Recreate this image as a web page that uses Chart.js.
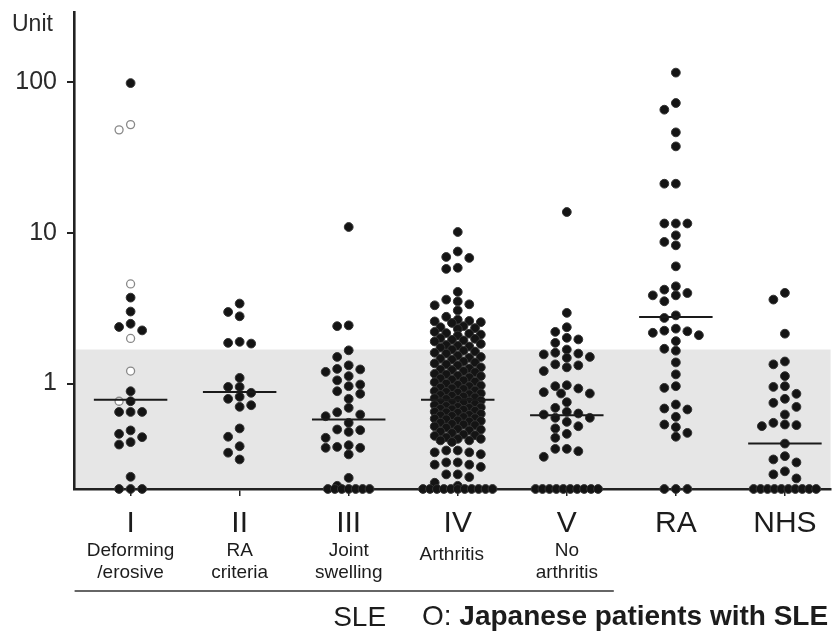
<!DOCTYPE html>
<html>
<head>
<meta charset="utf-8">
<script src="https://cdn.jsdelivr.net/npm/chart.js@4.4.1/dist/chart.umd.min.js"></script>
<style>
  html, body { margin: 0; padding: 0; background: #ffffff; }
  #wrap { width: 836px; height: 633px; position: relative; }
</style>
</head>
<body>
<div id="wrap"><canvas id="c" width="836" height="633"></canvas></div>
<script>
// ---------------- data ----------------
const categories = ['I', 'II', 'III', 'IV', 'V', 'RA', 'NHS'];
const subLabels = [['Deforming', '/erosive'], ['RA', 'criteria'], ['Joint', 'swelling'], ['Arthritis'], ['No', 'arthritis'], [], []];
const yTickValues = [1, 10, 100];
const yAxisTitle = 'Unit';
const groupTitle = 'SLE';
const legendSymbol = 'O: ';
const legendText = 'Japanese patients with SLE';
const normalUpperLimit = 1.68;   // shaded normal range top
const detectionLimit = 0.2;      // values plotted on the axis

const groupI = [98, 3.71, 3.0, 2.25, 2.37, 2.49, 0.889, 0.763, 0.648, 0.648, 0.648, 0.489, 0.441, 0.464, 0.394, 0.409, 0.241, 0.2, 0.2, 0.2];
const groupIJapanese = [52, 48, 4.57, 1.99, 1.21, 0.763];
const groupII = [3.39, 2.98, 2.79, 1.89, 1.84, 1.86, 1.09, 0.95, 0.95, 0.817, 0.868, 0.792, 0.718, 0.701, 0.504, 0.444, 0.384, 0.348, 0.314];
const groupIII = [10.9, 2.40, 2.43, 1.66, 1.50, 1.24, 1.32, 1.195, 1.25, 1.12, 1.05, 0.985, 0.96, 0.792, 0.855, 0.889, 0.69, 0.623, 0.607, 0.645, 0.549, 0.496, 0.478, 0.491, 0.437, 0.39, 0.375, 0.339, 0.375, 0.38, 0.237, 0.21, 0.2, 0.2, 0.2, 0.2, 0.2, 0.2, 0.2];
const groupIV = [
  10.1, 7.5, 6.8, 6.9, 5.75, 5.85, 4.05, 3.6, 3.5, 3.35, 3.3, 3.05, 2.77, 2.65,
  2.6, 2.58, 2.55, 2.52,
  2.4, 2.36, 2.33, 2.3,
  2.2, 2.16, 2.14, 2.11, 2.08,
  2.0, 1.98, 1.95, 1.93, 1.9,
  1.83, 1.8, 1.78, 1.76, 1.73,
  1.68, 1.65, 1.63, 1.6, 1.58,
  1.53, 1.5, 1.48, 1.46, 1.44,
  1.4, 1.38, 1.36, 1.34, 1.32,
  1.28, 1.26, 1.24, 1.23, 1.21, 1.19,
  1.16, 1.15, 1.13, 1.12, 1.1, 1.08,
  1.06, 1.05, 1.03, 1.02, 1.0, 0.98,
  0.97, 0.96, 0.94, 0.93, 0.92, 0.9,
  0.89, 0.88, 0.87, 0.86, 0.85, 0.84, 0.83,
  0.82, 0.81, 0.8, 0.79, 0.78, 0.77, 0.76, 0.75,
  0.745, 0.74, 0.73, 0.72, 0.71, 0.7, 0.695, 0.69,
  0.68, 0.675, 0.67, 0.66, 0.65, 0.645, 0.64, 0.63,
  0.62, 0.615, 0.61, 0.6, 0.59, 0.585, 0.58,
  0.57, 0.565, 0.56, 0.55, 0.54, 0.535, 0.53,
  0.52, 0.51, 0.5, 0.495, 0.49, 0.48,
  0.47, 0.46, 0.455, 0.45, 0.44,
  0.43, 0.43, 0.42, 0.42, 0.41,
  0.36, 0.36, 0.35, 0.35, 0.34,
  0.3, 0.3, 0.29, 0.29, 0.28,
  0.25, 0.25, 0.24, 0.22, 0.21,
  0.2, 0.2, 0.2, 0.2, 0.2, 0.2, 0.2, 0.2, 0.2, 0.2, 0.2
];
const groupV = [13.7, 2.94, 2.36, 2.20, 2.01, 1.86, 1.96, 1.68, 1.56, 1.60, 1.48, 1.50, 1.58, 1.32, 1.21, 1.28, 1.34, 0.927, 0.974, 0.859, 0.859, 0.876, 0.96, 0.69, 0.752, 0.623, 0.649, 0.593, 0.557, 0.593, 0.633, 0.521, 0.504, 0.437, 0.464, 0.369, 0.356, 0.327, 0.369, 0.2, 0.2, 0.2, 0.2, 0.2, 0.2, 0.2, 0.2, 0.2, 0.2];
const groupRA = [115, 72.3, 65.3, 46.2, 37.3, 21.1, 21.1, 11.5, 11.5, 11.5, 9.6, 8.68, 8.24, 5.98, 4.19, 4.41, 3.84, 3.51, 3.84, 3.98, 2.83, 2.72, 2.31, 2.22, 2.09, 2.17, 1.91, 2.24, 1.70, 1.65, 1.38, 1.15, 0.936, 0.96, 0.683, 0.726, 0.673, 0.602, 0.535, 0.471, 0.444, 0.514, 0.2, 0.2, 0.2];
const groupNHS = [3.99, 3.6, 2.14, 1.34, 1.40, 1.12, 0.96, 0.95, 0.855, 0.792, 0.745, 0.70, 0.623, 0.535, 0.522, 0.53, 0.549, 0.40, 0.33, 0.30, 0.314, 0.25, 0.235, 0.262, 0.2, 0.2, 0.2, 0.2, 0.2, 0.2, 0.2, 0.2, 0.2, 0.2];
const medians = [0.78, 0.88, 0.577, 0.78, 0.617, 2.76, 0.40];

const groupsFilled = [groupI, groupII, groupIII, groupIV, groupV, groupRA, groupNHS];
const groupsOpen = [groupIJapanese, [], [], [], [], [], []];

// ---------------- style constants ----------------
const FONT = '"Liberation Sans", Arial, sans-serif';
const INK = '#1c1c1c';

const bandPlugin = {
  id: 'band',
  beforeDraw(chart) {
    const { ctx, chartArea } = chart;
    const ys = chart.scales.y;
    const top = ys.getPixelForValue(normalUpperLimit);
    ctx.save();
    ctx.fillStyle = '#e6e6e6';
    ctx.fillRect(chartArea.left + 2, top, chartArea.right - chartArea.left - 2, chartArea.bottom - top);
    ctx.restore();
  }
};

const textPlugin = {
  id: 'texts',
  afterDraw(chart) {
    const { ctx } = chart;
    const xs = chart.scales.x;
    ctx.save();
    ctx.fillStyle = INK;
    ctx.textBaseline = 'alphabetic';
    // y axis title
    ctx.textAlign = 'left';
    ctx.font = '23px ' + FONT;
    ctx.fillStyle = '#2a2a2a';
    ctx.fillText(yAxisTitle, 12, 31);
    ctx.fillStyle = INK;
    ctx.textAlign = 'center';
    categories.forEach((c, i) => {
      const x = xs.getPixelForValue(i + 1);
      ctx.font = '30px ' + FONT;
      ctx.fillText(c, x, 532);
      const lines = subLabels[i];
      ctx.font = '19px ' + FONT;
      if (lines.length === 1) {
        ctx.fillText(lines[0], x - 6, 560);
      } else {
        lines.forEach((t, j) => ctx.fillText(t, x, 556 + j * 22));
      }
    });
    // bracket line under SLE groups
    const x0 = xs.getPixelForValue(1) - 56;
    const x1 = xs.getPixelForValue(5) + 47;
    ctx.strokeStyle = '#333';
    ctx.lineWidth = 1.5;
    ctx.beginPath();
    ctx.moveTo(x0, 591);
    ctx.lineTo(x1, 591);
    ctx.stroke();
    // SLE
    ctx.font = '28px ' + FONT;
    ctx.fillText(groupTitle, xs.getPixelForValue(3.1), 626);
    // legend
    ctx.textAlign = 'left';
    ctx.font = '28px ' + FONT;
    const lx = 422;
    ctx.fillText(legendSymbol, lx, 625);
    const w = ctx.measureText(legendSymbol).width;
    ctx.font = 'bold 28px ' + FONT;
    ctx.fillText(legendText, lx + w, 625);
    ctx.restore();
  }
};

const ctx = document.getElementById('c').getContext('2d');
const chart = new Chart(ctx, {
  type: 'scatter',
  data: {
    datasets: [
      { label: 'filled', data: [], pointRadius: 4.4, pointHoverRadius: 4.4, backgroundColor: '#141414', borderColor: '#333333', borderWidth: 1, clip: false, order: 2 },
      { label: 'japanese', data: [], pointRadius: 4, pointHoverRadius: 4, backgroundColor: '#ffffff', borderColor: '#888888', borderWidth: 1.3, clip: false, order: 1 },
      { type: 'line', label: 'median', data: [], borderColor: '#1a1a1a', borderWidth: 2, pointRadius: 0, spanGaps: false, clip: false, order: 0 }
    ]
  },
  options: {
    responsive: false,
    animation: false,
    events: [],
    layout: { padding: { top: 12, right: 0, bottom: 0, left: 0 } },
    plugins: { legend: { display: false }, tooltip: { enabled: false } },
    scales: {
      x: {
        type: 'linear',
        min: 0.481,
        max: 7.419,
        afterBuildTicks: s => { s.ticks = categories.map((c, i) => ({ value: i + 1 })); },
        ticks: { display: false },
        grid: { drawOnChartArea: false, drawTicks: true, tickLength: 7, color: '#222', lineWidth: 1.5 },
        border: { color: '#222', width: 2.6 },
        afterFit: s => { s.height = 144; s.paddingLeft = 0; s.paddingRight = 0; }
      },
      y: {
        type: 'logarithmic',
        min: 0.2,
        max: 290,
        afterBuildTicks: s => { s.ticks = yTickValues.map(v => ({ value: v })); },
        ticks: { callback: v => String(v), font: { family: FONT, size: 25 }, color: '#2a2a2a', padding: 10, autoSkip: false },
        grid: { drawOnChartArea: false, drawTicks: true, tickLength: 7, color: '#222', lineWidth: 2 },
        border: { color: '#222', width: 2.6 },
        afterFit: s => { s.width = 74; s.paddingTop = 0; s.paddingBottom = 0; }
      }
    }
  },
  plugins: [bandPlugin, textPlugin]
});

// ---------------- beeswarm layout computed through the scales ----------------
function layoutSwarm() {
  const xs = chart.scales.x, ys = chart.scales.y;
  const unit = xs.getPixelForValue(2) - xs.getPixelForValue(1);
  const colPx = 11.6;
  const ndPx = 7;
  const halfMedian = 37 / unit;
  const filled = [], open = [], med = [];
  groupsFilled.forEach((g, gi) => {
    const cx = gi + 1;
    const pts = [];
    g.forEach(v => pts.push({ v, open: false }));
    groupsOpen[gi].forEach(v => pts.push({ v, open: true }));
    const nd = pts.filter(p => p.v <= detectionLimit);
    const rest = pts.filter(p => p.v > detectionLimit).sort((a, b) => b.v - a.v);
    const placed = [];
    const gapAt = (offPx, py) => {
      let g2 = Infinity;
      for (const q of placed) {
        const d = Math.hypot(q.px - offPx, q.py - py);
        if (d < g2) g2 = d;
      }
      return g2;
    };
    rest.forEach(p => {
      const py = ys.getPixelForValue(p.v);
      let best = null;
      for (const c of [0, -1, 1, -2, 2]) {
        if (gapAt(c * colPx, py) >= 9) { best = c * colPx; break; }
      }
      if (best === null) {
        let bg = -1;
        for (const c of [0, -0.5, 0.5, -1, 1, -1.5, 1.5, -2, 2]) {
          const g2 = gapAt(c * colPx, py);
          if (g2 > bg) { bg = g2; best = c * colPx; }
        }
      }
      placed.push({ px: best, py });
      p.x = cx + best / unit;
    });
    const n = nd.length, s = n > 4 ? ndPx : colPx;
    nd.forEach((p, i) => { p.x = cx + (i - (n - 1) / 2) * s / unit; });
    pts.forEach(p => (p.open ? open : filled).push({ x: p.x, y: p.v }));
    med.push({ x: cx - halfMedian, y: medians[gi] }, { x: cx + halfMedian, y: medians[gi] }, { x: cx, y: null });
  });
  chart.data.datasets[0].data = filled;
  chart.data.datasets[1].data = open;
  chart.data.datasets[2].data = med;
  chart.update('none');
}
layoutSwarm();
</script>
</body>
</html>
